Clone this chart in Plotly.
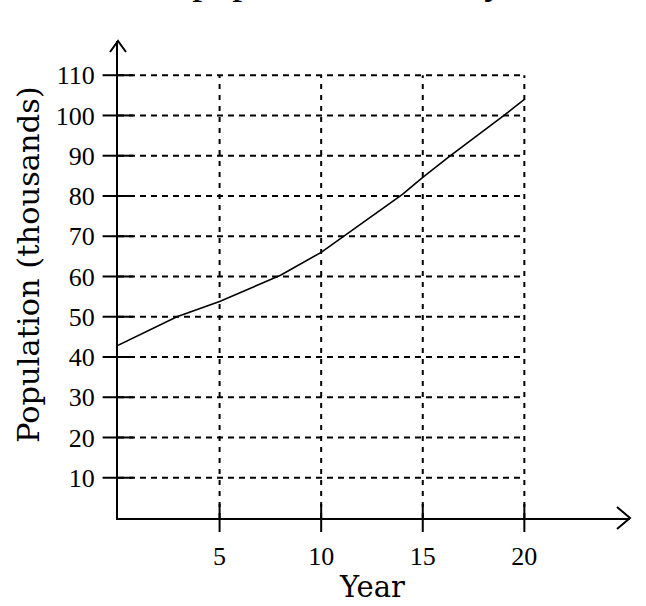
import plotly.graph_objects as go

# Data
years = [0, 2.9, 5, 8, 10, 11, 14, 15, 16.3, 19, 20]
population = [42.9, 50.0, 53.8, 60.3, 66.0, 69.6, 80.4, 84.6, 89.8, 100.0, 104.0]

x_ticks = [5, 10, 15, 20]
y_ticks = [10, 20, 30, 40, 50, 60, 70, 80, 90, 100, 110]
x_label = "Year"
y_label = "Population (thousands)"
title_text = "The population of a city"

X_MAX, Y_MAX = 25.2, 118.5
FONT = "Liberation Serif"
TITLE_FONT = "DejaVu Serif"

fig = go.Figure()

# dashed grid restricted to the labelled area
for v in y_ticks:
    fig.add_shape(type="line", x0=0, x1=max(x_ticks), y0=v, y1=v, xref="x", yref="y",
                  line=dict(color="black", width=2, dash="6px,5px"), layer="below")
for v in x_ticks:
    fig.add_shape(type="line", x0=v, x1=v, y0=0, y1=max(y_ticks), xref="x", yref="y",
                  line=dict(color="black", width=2, dash="5px,6px"), layer="below")

# crossing tick marks
fig.add_trace(go.Scatter(x=[0] * len(y_ticks), y=y_ticks, mode="markers",
                         marker=dict(symbol="line-ew", size=22, line=dict(color="black", width=2)),
                         hoverinfo="skip", showlegend=False, cliponaxis=False))
fig.add_trace(go.Scatter(x=x_ticks, y=[0] * len(x_ticks), mode="markers",
                         marker=dict(symbol="line-ns", size=20, line=dict(color="black", width=2)),
                         hoverinfo="skip", showlegend=False, cliponaxis=False))

# data line
fig.add_trace(go.Scatter(x=years, y=population, mode="lines",
                         line=dict(color="black", width=1.6), showlegend=False))

# arrow heads at the axis ends (paper refs so they are not clipped)
fig.add_shape(type="path", xref="paper", yref="paper", xsizemode="pixel", ysizemode="pixel",
              xanchor=1, yanchor=0, path="M -13,11 L 0,0 L -13,-11",
              line=dict(color="black", width=2))
fig.add_shape(type="path", xref="paper", yref="paper", xsizemode="pixel", ysizemode="pixel",
              xanchor=0, yanchor=1, path="M -8,-11 L 0,0 L 8,-11",
              line=dict(color="black", width=2))

# title, cut by the top edge as in the reference
fig.add_annotation(text=title_text, xref="paper", yref="paper", x=0.0, y=1.077,
                   xanchor="left", yanchor="bottom", showarrow=False,
                   font=dict(family=FONT, size=40, color="black"))

# axis titles
fig.add_annotation(text=y_label, xref="paper", yref="paper", x=-0.175, y=0.531,
                   xanchor="center", yanchor="middle", textangle=-90, showarrow=False,
                   font=dict(family=TITLE_FONT, size=30.5, color="black"))
fig.add_annotation(text=x_label, xref="paper", yref="paper", x=0.496, y=-0.145,
                   xanchor="center", yanchor="middle", showarrow=False,
                   font=dict(family=TITLE_FONT, size=29, color="black"))

tick_font = dict(family=FONT, size=26, color="black")
fig.update_layout(
    width=646, height=606,
    margin=dict(l=118, r=16, t=41, b=88),
    paper_bgcolor="white", plot_bgcolor="white",
    font=dict(family=FONT, color="black", size=26),
    xaxis=dict(range=[0, X_MAX], tickvals=x_ticks, ticktext=[str(v) for v in x_ticks],
               showgrid=False, zeroline=False, showline=True, linecolor="black", linewidth=2,
               ticks="", ticklabelstandoff=14, tickfont=tick_font, automargin=False,
               fixedrange=True),
    yaxis=dict(range=[0, Y_MAX], tickvals=y_ticks, ticktext=[str(v) for v in y_ticks],
               showgrid=False, zeroline=False, showline=True, linecolor="black", linewidth=2,
               ticks="", ticklabelstandoff=16, tickfont=tick_font, automargin=False,
               fixedrange=True),
)

fig.write_html("out.html", config={"displayModeBar": False},
               post_script="document.body.style.margin='0';")
